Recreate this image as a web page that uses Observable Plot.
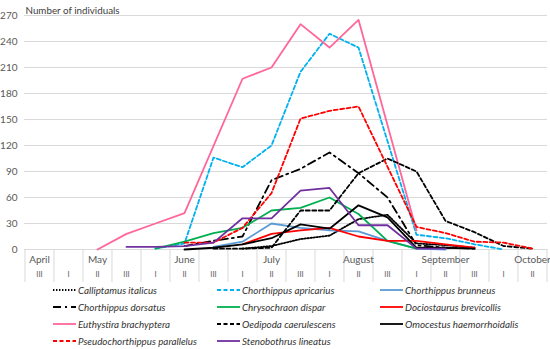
<!DOCTYPE html>
<html><head><meta charset="utf-8">
<script src="https://cdn.jsdelivr.net/npm/d3@7"></script>
<script src="https://cdn.jsdelivr.net/npm/@observablehq/plot@0.6"></script>
<style>
body{margin:0;background:#fff;font-family:Lato,"Open Sans",sans-serif;}
#wrap{position:relative;width:550px;height:349px;overflow:hidden;}
#wrap svg.plot{position:absolute;left:0;top:0;}
.leg{position:absolute;display:flex;align-items:center;font-style:italic;font-size:9.8px;color:#333;white-space:nowrap;height:12px;}
.leg svg{margin-right:2px;}
</style></head><body><div id="wrap"></div>
<script>
// ---- data ----
const periodMonth = ["April","May","May","May","June","June","June","July","July","July","August","August","August","September","September","September","October","October"];
const periodDecade = ["III","I","II","III","I","II","III","I","II","III","I","II","III","I","II","III","I","II"];
const yTicks = [0,30,60,90,120,150,180,210,240,270];
const yTitle = "Number of individuals";
const _ = null;
const calliptamusItalicus        = [_,_,_,_,_,_,_,1,4,12,16,35,40,7,5,2,_,_];
const chorthippusApricarius      = [_,_,_,_,1,7,106,95,120,205,249,233,_,17,13,6,0,_];
const chorthippusBrunneus        = [_,_,_,_,_,_,3,9,30,25,22,21,10,1,0,_,_,_];
const chorthippusDorsatus        = [_,_,_,_,_,4,10,15,80,93,112,88,60,5,2,1,_,_];
const chrysochraonDispar         = [_,_,_,_,1,9,19,25,45,48,60,41,10,1,_,_,_,_];
const dociostaurusBrevicollis    = [_,_,_,_,_,_,_,6,18,22,25,15,10,10,6,2,_,_];
const euthystiraBrachyptera      = [_,_,0,18,30,42,_,197,210,260,233,265,_,22,_,_,_,_];
const oedipodaCaerulescens       = [_,_,_,_,_,_,1,1,2,45,45,88,105,90,33,20,4,1];
const omocestusHaemorrhoidalis   = [_,_,_,_,_,0,2,6,13,29,24,51,37,2,2,1,_,_];
const pseudochorthippusParallelus= [_,_,_,_,_,8,8,25,65,151,160,165,_,26,19,9,8,1];
const stenobothrusLineatus       = [_,_,_,3,3,4,8,36,36,68,71,28,28,1,1,_,_,_];
const speciesNames = ["Calliptamus italicus","Chorthippus apricarius","Chorthippus brunneus","Chorthippus dorsatus","Chrysochraon dispar","Dociostaurus brevicollis","Euthystira brachyptera","Oedipoda caerulescens","Omocestus haemorrhoidalis","Pseudochorthippus parallelus","Stenobothrus lineatus"];
const speciesValues = [calliptamusItalicus,chorthippusApricarius,chorthippusBrunneus,chorthippusDorsatus,chrysochraonDispar,dociostaurusBrevicollis,euthystiraBrachyptera,oedipodaCaerulescens,omocestusHaemorrhoidalis,pseudochorthippusParallelus,stenobothrusLineatus];

// ---- styles ----
const styles = [
  {stroke:"#000000", dash:"1.4 1.6"},
  {stroke:"#00b0f0", dash:"4 2.5"},
  {stroke:"#5b9bd5", dash:null},
  {stroke:"#000000", dash:"8 4 2 4"},
  {stroke:"#00b050", dash:null},
  {stroke:"#ff0000", dash:null},
  {stroke:"#ff6699", dash:null},
  {stroke:"#000000", dash:"4 2.5"},
  {stroke:"#000000", dash:null},
  {stroke:"#ff0000", dash:"4 2.5"},
  {stroke:"#7030a0", dash:null}
];

const W = 550, H = 284, ML = 24, MR = 3, MT = 15, MB = 35;
const n = periodMonth.length;
const step = (W - ML - MR) / n;
const idx = d3.range(n);
const monthIdx = idx.filter(i => periodDecade[i] === "II" || periodMonth.filter(m => m === periodMonth[i]).length === 1);

const lineMarks = speciesValues.map((vals, s) => {
  const rows = vals.map((v, i) => ({i, v})).filter(d => d.v !== null);
  return Plot.line(rows, {x: "i", y: "v", stroke: styles[s].stroke, strokeWidth: 1.8,
    strokeDasharray: styles[s].dash || undefined, strokeLinejoin: "round"});
});

const chart = Plot.plot({
  width: W, height: H, marginLeft: ML, marginRight: MR, marginTop: MT, marginBottom: MB,
  style: {fontFamily: "Lato, 'Open Sans', sans-serif", fontSize: "10px", color: "#595959", background: "transparent"},
  x: {type: "point", domain: idx, padding: 0.5, axis: null},
  y: {domain: [0, 270], ticks: yTicks, tickSize: 0, tickPadding: 7, label: null, tickFormat: d => String(d)},
  marks: [
    Plot.ruleY(yTicks, {stroke: "#d9d9d9", strokeWidth: 1}),
    Plot.ruleX(idx, {x: d => d, dx: -step / 2, stroke: "#d9d9d9", insetTop: H - MT - MB, insetBottom: -33}),
    Plot.ruleX([n - 1], {x: d => d, dx: step / 2, stroke: "#d9d9d9", insetTop: H - MT - MB, insetBottom: -33}),
    Plot.text(monthIdx, {x: d => d, text: d => periodMonth[d], frameAnchor: "bottom", dy: 13, fontSize: 10, fill: "#595959"}),
    Plot.text(idx, {x: d => d, text: d => periodDecade[d], frameAnchor: "bottom", dy: 27, fontSize: 7.5, fill: "#595959"}),
    Plot.text([yTitle], {text: d => d, frameAnchor: "top-left", textAnchor: "start", dx: 1, dy: -8.5, fontSize: 9.8, fill: "#404040"}),
    ...lineMarks
  ]
});
chart.classList.add("plot");
const wrap = document.getElementById("wrap");
wrap.appendChild(chart);

// ---- legend (below the chart) ----
const colLeft = [53, 217, 380];
const rowTop = [284, 301, 318, 335];
speciesNames.forEach((name, s) => {
  const div = document.createElement("div");
  div.className = "leg";
  div.style.left = colLeft[s % 3] + "px";
  div.style.top = rowTop[Math.floor(s / 3)] + "px";
  const sw = d3.create("svg").attr("width", 23).attr("height", 6);
  sw.append("line").attr("x1", 0).attr("x2", 23).attr("y1", 3).attr("y2", 3)
    .attr("stroke", styles[s].stroke).attr("stroke-width", 1.8)
    .attr("stroke-dasharray", styles[s].dash);
  div.appendChild(sw.node());
  const sp = document.createElement("span");
  sp.textContent = name;
  div.appendChild(sp);
  wrap.appendChild(div);
});
</script></body></html>
